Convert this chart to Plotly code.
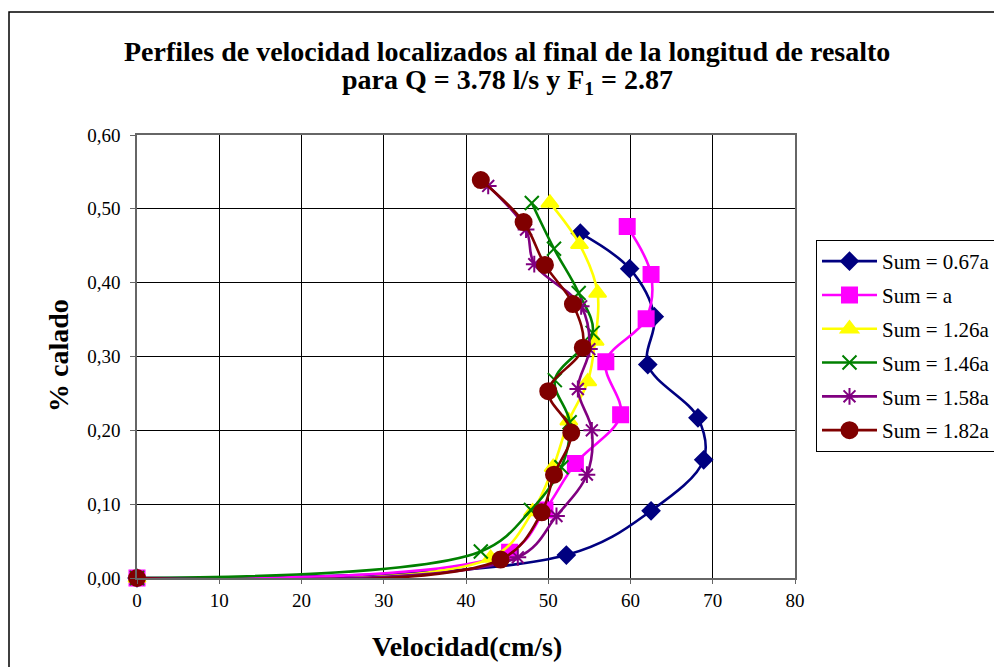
import plotly.graph_objects as go

# ---- data ----
names = ["Sum = 0.67a", "Sum = a", "Sum = 1.26a", "Sum = 1.46a", "Sum = 1.58a", "Sum = 1.82a"]

v_067 = [0, 52.2, 62.5, 68.9, 68.2, 62.1, 62.9, 59.9, 53.9]
y_067 = [0, 0.031, 0.091, 0.160, 0.217, 0.289, 0.354, 0.419, 0.467]

v_a = [0, 45.3, 49.6, 53.3, 58.8, 57.0, 61.9, 62.5, 59.6]
y_a = [0, 0.035, 0.092, 0.155, 0.221, 0.293, 0.351, 0.411, 0.476]

v_126 = [0, 43.0, 48.1, 50.6, 52.5, 54.8, 55.7, 56.0, 53.8, 50.2]
y_126 = [0, 0.027, 0.090, 0.150, 0.213, 0.266, 0.321, 0.386, 0.452, 0.508]

v_146 = [0, 41.8, 47.9, 51.6, 52.6, 50.8, 55.4, 53.7, 50.7, 48.0]
y_146 = [0, 0.036, 0.092, 0.150, 0.211, 0.268, 0.332, 0.386, 0.446, 0.508]

v_158 = [0, 46.3, 51.0, 54.7, 55.3, 53.6, 55.0, 54.0, 48.3, 47.3, 42.7]
y_158 = [0, 0.028, 0.084, 0.140, 0.200, 0.256, 0.310, 0.368, 0.425, 0.472, 0.531]

v_182 = [0, 44.2, 49.2, 50.7, 52.8, 50.0, 54.2, 53.0, 49.6, 47.0, 41.8]
y_182 = [0, 0.025, 0.089, 0.140, 0.197, 0.253, 0.312, 0.371, 0.424, 0.482, 0.539]

series_v = [v_067, v_a, v_126, v_146, v_158, v_182]
series_y = [y_067, y_a, y_126, y_146, y_158, y_182]

colors = ["#000080", "#FF00FF", "#FFFF00", "#008000", "#800080", "#800000"]
symbols = ["diamond", "square", "triangle-up", "x-thin-open", "asterisk-open", "circle"]
sizes = [13, 15, 15, 14, 14, 16]

x_ticks = [0, 10, 20, 30, 40, 50, 60, 70, 80]
y_ticks = [0.0, 0.1, 0.2, 0.3, 0.4, 0.5, 0.6]
y_labels = ["0,00", "0,10", "0,20", "0,30", "0,40", "0,50", "0,60"]

title_line1 = "Perfiles de velocidad localizados al final de la longitud de resalto"
title_line2 = "para Q = 3.78 l/s y F<sub>1</sub> = 2.87"
x_title = "Velocidad(cm/s)"
y_title = "% calado"

FONT = "Liberation Serif"

fig = go.Figure()
for i in range(len(names)):
    fig.add_trace(go.Scatter(
        x=series_v[i], y=series_y[i], name=names[i],
        mode="lines+markers",
        line=dict(color=colors[i], width=2.6, shape="spline", smoothing=1.0),
        marker=dict(symbol=symbols[i], size=sizes[i], color=colors[i],
                    line=dict(color=colors[i], width=2)),
        cliponaxis=False,
        legendgroup="g%d" % i,
    ))

# page offset (browser body margin) compensation
OFF = 8
W, H = 1002, 667
L, R, T, B = 137 - OFF, 795 - OFF, 135 - OFF, 578 - OFF
pw, ph = R - L, B - T

def px(xp):
    return (xp - OFF - L) / pw

def py(yp):
    return (B - (yp - OFF)) / ph

ann = dict(xref="paper", yref="paper", showarrow=False, xanchor="center", yanchor="middle")
annotations = [
    dict(text="<b>" + title_line1 + "</b>", x=px(507), y=py(52),
         font=dict(family=FONT, size=28, color="black"), **ann),
    dict(text="<b>" + title_line2 + "</b>", x=px(507), y=py(81),
         font=dict(family=FONT, size=28, color="black"), **ann),
    dict(text="<b>" + x_title + "</b>", x=px(467), y=py(646),
         font=dict(family=FONT, size=28, color="black"), **ann),
    dict(text="<b>" + y_title + "</b>", x=px(58), y=py(356), textangle=-90,
         font=dict(family=FONT, size=28, color="black"), **ann),
]

fig.update_layout(
    width=W, height=H,
    margin=dict(l=L, r=W - R, t=T, b=H - B),
    paper_bgcolor="white", plot_bgcolor="white",
    font=dict(family=FONT, size=19, color="black"),
    xaxis=dict(
        range=[0, 80], tickvals=x_ticks, ticktext=[str(t) for t in x_ticks],
        showgrid=True, gridcolor="black", gridwidth=1,
        showline=True, linecolor="#666", linewidth=1.5, mirror=True,
        ticks="outside", ticklen=4, tickcolor="#666",
        zeroline=False,
        tickfont=dict(family=FONT, size=19),
    ),
    yaxis=dict(
        range=[0, 0.6], tickvals=y_ticks, ticktext=y_labels,
        showgrid=True, gridcolor="black", gridwidth=1,
        showline=True, linecolor="#666", linewidth=1.5, mirror=True,
        ticks="outside", ticklen=5, tickcolor="#666",
        zeroline=False, ticklabelstandoff=6,
        tickfont=dict(family=FONT, size=19),
    ),
    legend=dict(
        x=px(816), y=py(240), xanchor="left", yanchor="top",
        bordercolor="black", borderwidth=1, bgcolor="white",
        font=dict(family=FONT, size=21),
        tracegroupgap=3.5, itemwidth=55,
    ),
    annotations=annotations,
    shapes=[dict(
        type="rect", xref="paper", yref="paper",
        x0=px(9), x1=px(1000), y0=py(700), y1=py(12),
        line=dict(color="black", width=1.5), fillcolor="rgba(0,0,0,0)", layer="below",
    )],
)

fig.write_html("out.html")
